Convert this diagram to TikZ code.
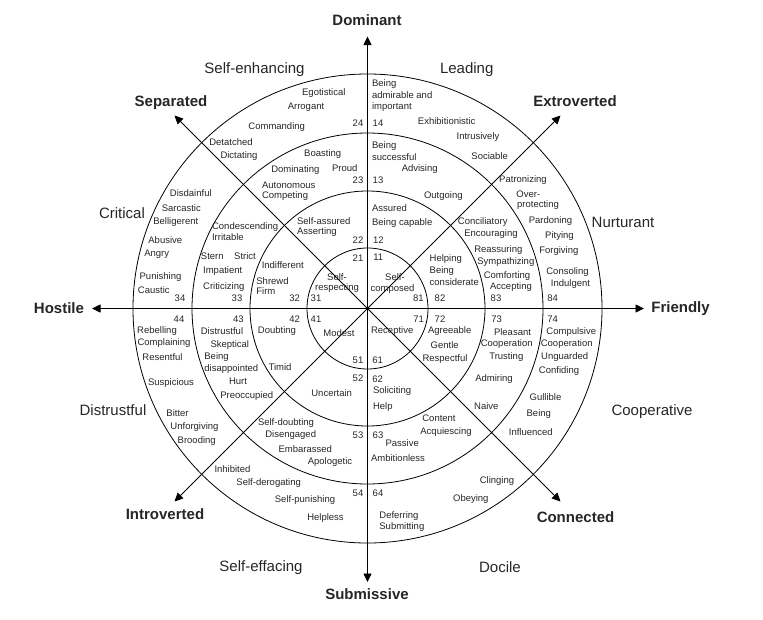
\documentclass[tikz,border=0pt]{standalone}
\usepackage{fontspec}
\setmainfont{Liberation Sans}
\usetikzlibrary{arrows.meta}

\begin{document}
\begin{tikzpicture}[x=1pt,y=-1pt,line width=0.8pt,
    word/.style={font=\fontsize{9.5}{11.5}\selectfont,text=black!85,inner sep=0pt},
    axis/.style={font=\fontsize{15}{18}\selectfont\bfseries,text=black!85,inner sep=0pt},
    octant/.style={font=\fontsize{15}{18}\selectfont,text=black!85,inner sep=0pt},
    tip/.style={{Triangle[length=8.5pt,width=8pt]}-{Triangle[length=8.5pt,width=8pt]}}]
    \useasboundingbox (0,0) rectangle (763,619);

    % circles
    \coordinate (c) at (367.5,308.5);
    \foreach \r in {60.5,117.5,175.5,234.5}
        \draw (c) circle[radius=\r];

    % axes
    \coordinate (dom) at (367.5,36.5);
    \coordinate (sub) at (367.5,582);
    \coordinate (hos) at (92,308.5);
    \coordinate (fri) at (644,308.5);
    \coordinate (sep) at (174.5,115.5);
    \coordinate (ext) at (560.5,115.5);
    \coordinate (int) at (174.5,501.5);
    \coordinate (con) at (560.5,501.5);
    \draw[tip] (sub) -- (dom);
    \draw[tip] (hos) -- (fri);
    \draw[tip] (int) -- (ext);
    \draw[tip] (con) -- (sep);

    \node[axis] (dominant) at (367,20) {Dominant};
    \node[axis] (submissive) at (367,594) {Submissive};
    \node[axis] (hostile) at (59,308.5) {Hostile};
    \node[axis] (friendly) at (680.5,308.5) {Friendly};
    \node[axis] (separated) at (171,103) {Separated};
    \node[axis] (extroverted) at (575,101) {Extroverted};
    \node[axis] (introverted) at (165,514) {Introverted};
    \node[axis] (connected) at (575.5,517.5) {Connected};

    % octant names
    \node[octant] (enhancing) at (254.5,70) {Self-enhancing};
    \node[octant] (leading) at (466.7,70) {Leading};
    \node[octant] (critical) at (122,213) {Critical};
    \node[octant] (nurturant) at (623,222.7) {Nurturant};
    \node[octant] (distrustful) at (113,410) {Distrustful};
    \node[octant] (cooperative) at (652,412) {Cooperative};
    \node[octant] (effacing) at (261,567.5) {Self-effacing};
    \node[octant] (docile) at (500,567) {Docile};

    % numbers
    \foreach \px/\py/\txt [count=\i] in {
        358/123.3/24, 378/123.3/14, 358/180/23, 378/180/13,
        358/240/22, 378.3/240/12, 358/257.7/21, 378.3/257.7/11,
        180/298/34, 237/298/33, 294.7/298/32, 316/298/31,
        418.3/298/81, 440/298/82, 496/298/83, 552.7/298/84,
        179/319/44, 238.3/319/43, 294.7/319/42, 316/319/41,
        418.7/319/71, 440/319/72, 496.7/319/73, 552.7/319/74,
        358/360/51, 377.7/360/61, 358/378.3/52, 377.7/379.3/62,
        358/435.7/53, 378/435.7/63, 358/493.3/54, 378/493.3/64}
        \node[word] (n\i) at (\px,\py) {\txt};

    % words, centred
    \foreach \px/\py/\txt [count=\i] in {
        323.8/93.3/Egotistical, 306/107.3/Arrogant, 276.7/126.7/Commanding,
        231/142.3/Detatched, 239/155.7/Dictating, 322.7/154/Boasting,
        295.3/170/Dominating, 344.8/168.3/Proud,
        446.7/121/Exhibitionistic, 478/136.7/Intrusively, 489.7/156/Sociable,
        419.7/169.3/Advising, 443.3/196/Outgoing, 523/180/Patronizing,
        528.3/194/Over-, 538/205/protecting, 550.5/220.7/Pardoning,
        559.5/236/Pitying, 558.8/250.7/Forgiving, 567.5/271.7/Consoling,
        570.5/284.3/Indulgent, 482.7/221.7/Conciliatory, 491/234.3/Encouraging,
        498.3/250/Reassuring, 505.8/261.7/Sympathizing, 507/275.7/Comforting,
        511/286.7/Accepting, 395/276.7/Self-, 392.5/289.3/composed,
        190.8/192.7/Disdainful, 181.3/208.3/Sarcastic, 175.8/222.3/Belligerent,
        165.3/240/Abusive, 156.7/254.3/Angry, 160.5/276.7/Punishing,
        153.8/290/Caustic, 212.3/256/Stern, 245/256/Strict,
        222.7/270.7/Impatient, 223.8/287.3/Criticizing, 282.8/265/Indifferent,
        337/276.7/Self-, 337/288.3/respecting,
        157/331/Rebelling, 164/342.7/Complaining, 162.5/357.3/Resentful,
        171/383.3/Suspicious, 177.5/413.3/Bitter, 194.5/426.7/Unforgiving,
        196.7/440.7/Brooding, 222/331/Distrustful, 229.8/345/Skeptical,
        238/381/Hurt, 246.7/396/Preoccupied, 277/331/Doubting,
        280/366.7/Timid, 339/332.7/Modest,
        392.2/331/Receptive, 449.7/331/Agreeable, 444.7/345/Gentle,
        445/359/Respectful, 512.5/331.7/Pleasant, 506.7/344/Cooperation,
        506.3/357.3/Trusting, 571.3/331.7/Compulsive, 566.7/344.3/Cooperation,
        564.7/357.3/Unguarded, 559/370.7/Confiding, 494/379/Admiring,
        486.3/405.7/Naive, 545.5/396.7/Gullible, 538.8/414.3/Being,
        530.8/431.7/Influenced, 439/418.3/Content, 446/431.7/Acquiescing,
        402.2/442.7/Passive, 398/457.7/Ambitionless, 497/481/Clinging,
        470.8/499.3/Obeying,
        331.7/393.3/Uncertain, 286/422.7/Self-doubting, 290.7/435/Disengaged,
        305.3/449/Embarassed, 330/462.3/Apologetic, 232.5/469/Inhibited,
        268.7/482.7/Self-derogating, 305/500/Self-punishing, 325.5/518.3/Helpless}
        \node[word] (w\i) at (\px,\py) {\txt};

    % words, flush left
    \foreach \px/\py/\txt [count=\i] in {
        371.7/84/Being, 371.7/95.5/admirable and, 371.7/107/important,
        371.7/146/Being, 371.7/156.7/successful,
        371.7/207.7/Assured, 371.7/223.3/Being capable,
        429.3/259.3/Helping, 429.3/270.7/Being, 429.3/282.3/considerate,
        261.7/185/Autonomous, 261.7/196/Competing,
        211.7/226.7/Condescending, 211.7/237.3/Irritable,
        296.7/221/Self-assured, 296.7/232.3/Asserting,
        256/280.7/Shrewd, 256/291/Firm,
        204/357.3/Being, 204/369/disappointed,
        372.7/390.7/Soliciting, 372.7/406.7/Help,
        379/516/Deferring, 379/526.7/Submitting}
        \node[word,anchor=west] (f\i) at (\px,\py) {\txt};
\end{tikzpicture}
\end{document}
